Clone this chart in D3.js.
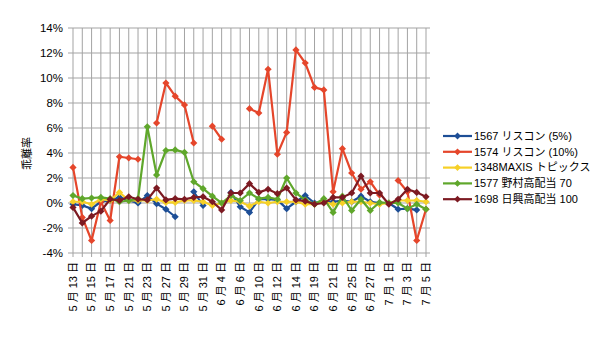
<!DOCTYPE html>
<html>
<head>
<meta charset="utf-8">
<script src="https://cdn.jsdelivr.net/npm/d3@7"></script>
<style>
  html, body { margin: 0; padding: 0; background: #fff; }
  svg { display: block; }
  text { font-family: "Liberation Sans", Arial, "Noto Sans CJK JP", sans-serif; fill: #000; }
</style>
</head>
<body>
<svg id="chart" width="600" height="337"></svg>
<script>
// Trading days on the category axis
const dates = [
  "5 月 13 日","5 月 14 日","5 月 15 日","5 月 16 日","5 月 17 日","5 月 20 日","5 月 21 日","5 月 22 日",
  "5 月 23 日","5 月 24 日","5 月 27 日","5 月 28 日","5 月 29 日","5 月 30 日","5 月 31 日","6 月 3 日",
  "6 月 4 日","6 月 5 日","6 月 6 日","6 月 7 日","6 月 10 日","6 月 11 日","6 月 12 日","6 月 13 日",
  "6 月 14 日","6 月 18 日","6 月 19 日","6 月 20 日","6 月 21 日","6 月 24 日","6 月 25 日","6 月 26 日",
  "6 月 27 日","6 月 28 日","7 月 1 日","7 月 2 日","7 月 3 日","7 月 4 日","7 月 5 日"
];

// Deviation rate (%) per fund; null = no quote that day
const riskon5 = [-0.1,-0.2,-0.45,0.1,0.2,0.45,0.2,0.0,0.6,-0.05,-0.5,-1.1,null,0.9,-0.2,null,
  null,0.85,-0.3,-0.75,0.3,0.3,0.25,-0.45,0.1,0.6,0.0,0.1,0.1,0.2,0.1,0.55,
  0.1,0.0,0.0,-0.5,-0.45,-0.55,null];
const riskon10 = [2.85,-1.15,-3.0,0.1,-1.4,3.7,3.6,3.5,null,6.4,9.6,8.55,7.85,4.8,null,6.15,
  5.1,null,null,7.55,7.2,10.7,3.9,5.65,12.25,11.2,9.25,9.05,0.9,4.35,2.4,1.1,
  1.7,0.65,null,1.8,0.9,-3.0,-0.5];
const maxisTopix = [0.1,0.1,-0.1,0.3,0.2,0.85,0.2,0.2,0.2,0.3,0.05,0.05,0.2,0.2,0.1,-0.2,
  0.0,0.2,0.1,-0.25,0.1,0.0,0.1,0.1,0.1,-0.1,-0.1,0.1,-0.1,0.0,0.1,0.1,
  0.0,-0.1,0.0,0.2,0.2,0.2,0.1];
const nomura70 = [0.6,0.35,0.4,0.45,0.35,0.1,0.2,0.35,6.1,2.25,4.2,4.25,4.05,1.7,1.15,0.55,
  0.0,0.6,0.2,0.8,0.35,0.45,0.3,2.0,0.8,0.25,-0.1,0.35,-0.75,0.55,-0.6,0.3,
  -0.6,0.05,0.0,0.0,-0.45,-0.1,-0.5];
const nikko100 = [-0.35,-1.6,-1.05,-0.65,0.3,0.2,0.5,0.3,0.25,1.2,0.25,0.35,0.3,0.45,0.5,0.1,
  -0.55,0.8,0.8,1.55,0.85,1.1,0.75,1.2,0.25,0.15,-0.1,0.0,0.45,0.45,0.8,2.15,
  0.8,0.8,-0.1,0.3,1.1,0.85,0.5];

const seriesNames = ["1567 リスコン (5%)","1574 リスコン (10%)","1348MAXIS トピックス","1577 野村高配当 70","1698 日興高配当 100"];
const seriesColors = ["#1d4e96","#e5462b","#f6d027","#5fa72b","#7c1a22"];
const seriesValues = [riskon5, riskon10, maxisTopix, nomura70, nikko100];

const yTicks = [-4,-2,0,2,4,6,8,10,12,14];

const svg = d3.select("#chart");
const plot = { left: 73, right: 426, top: 28, bottom: 253 };

const x = d3.scalePoint().domain(d3.range(dates.length)).range([plot.left, plot.right]);
const y = d3.scaleLinear().domain([-4, 14]).range([plot.bottom, plot.top]);

const grid = svg.append("g");
// horizontal gridlines with outward tick stubs
grid.selectAll("line.h").data(yTicks).join("line").attr("class", "h")
  .attr("x1", plot.left - 5).attr("x2", plot.right + 4)
  .attr("y1", d => y(d)).attr("y2", d => y(d))
  .attr("stroke", "#a3a3a3").attr("stroke-width", 1);
// vertical gridlines, one per category, extending below axis as ticks
grid.selectAll("line.v").data(d3.range(dates.length)).join("line").attr("class", "v")
  .attr("x1", d => x(d)).attr("x2", d => x(d))
  .attr("y1", plot.top).attr("y2", plot.bottom + 4)
  .attr("stroke", "#a3a3a3").attr("stroke-width", 1);

// y axis labels
svg.append("g").selectAll("text").data(yTicks).join("text")
  .attr("x", plot.left - 10).attr("y", d => y(d)).attr("dy", "0.35em")
  .attr("text-anchor", "end").attr("font-size", 11.5)
  .text(d => d + "%");

// x axis labels (every other day), rotated
svg.append("g").selectAll("text")
  .data(d3.range(dates.length).filter(i => i % 2 === 0)).join("text")
  .attr("transform", i => `translate(${x(i)},${plot.bottom + 9}) rotate(-90)`)
  .attr("dy", "0.35em").attr("text-anchor", "end").attr("font-size", 11)
  .text(i => dates[i]);

// y axis title
svg.append("text")
  .attr("transform", `translate(27,${(plot.top + plot.bottom) / 2 + 13}) rotate(-90)`)
  .attr("dy", "0.35em").attr("text-anchor", "middle").attr("font-size", 11)
  .text("乖離率");

const line = d3.line()
  .defined(d => d != null)
  .x((d, i) => x(i)).y(d => y(d));

const diamond = r => `M0,${-r}L${r},0L0,${r}L${-r},0Z`;

seriesValues.forEach((vals, k) => {
  const g = svg.append("g");
  g.append("path").datum(vals)
    .attr("d", line).attr("fill", "none")
    .attr("stroke", seriesColors[k]).attr("stroke-width", 2.2)
    .attr("stroke-linejoin", "round");
  g.selectAll("path.m").data(vals.map((v, i) => ({v, i})).filter(d => d.v != null))
    .join("path").attr("class", "m")
    .attr("transform", d => `translate(${x(d.i)},${y(d.v)})`)
    .attr("d", diamond(3.6)).attr("fill", seriesColors[k]);
});

// legend
const legend = svg.append("g");
seriesNames.forEach((name, k) => {
  const ly = 136 + k * 15.8;
  legend.append("line").attr("x1", 443).attr("x2", 472).attr("y1", ly).attr("y2", ly)
    .attr("stroke", seriesColors[k]).attr("stroke-width", 2.2);
  legend.append("path").attr("transform", `translate(457.5,${ly})`)
    .attr("d", diamond(3.4)).attr("fill", seriesColors[k]);
  legend.append("text").attr("x", 474).attr("y", ly).attr("dy", "0.35em")
    .attr("font-size", 11).text(name);
});
</script>
</body>
</html>
